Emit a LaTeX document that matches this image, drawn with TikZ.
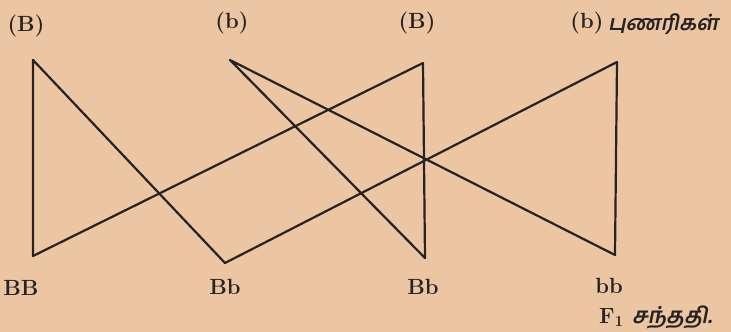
\documentclass[tikz,border=0pt]{standalone}
\usepackage{fontspec}
\newfontfamily\tamilfont[Script=Tamil,FakeSlant=0.2]{Hind Madurai}
\definecolor{paper}{RGB}{236,198,162}
\definecolor{ink}{RGB}{38,34,34}

\begin{document}
\begin{tikzpicture}[x=1pt, y=-1pt, line width=2.2pt, line cap=round, line join=round,
  lbl/.style={font=\fontsize{22}{26}\selectfont\bfseries, text=ink, inner sep=0pt},
  tam/.style={font=\fontsize{21}{25}\selectfont\tamilfont\bfseries, text=ink, inner sep=0pt},
  cross/.style={draw=ink}]
  \fill[paper] (0,0) rectangle (731,332);
  \useasboundingbox (0,0) rectangle (731,332);
  % gametes (top) and offspring (bottom)
  \coordinate (g1) at (33,60);
  \coordinate (g2) at (230,60);
  \coordinate (g3) at (423,63);
  \coordinate (g4) at (617,62);
  \coordinate (f1) at (33,256);
  \coordinate (f2) at (225,263);
  \coordinate (f3) at (425,258);
  \coordinate (f4) at (615,255);
  \node[lbl] (lg1) at (26,26) {(B)};
  \node[lbl] (lg2) at (232,23) {(b)};
  \node[lbl] (lg3) at (417,23) {(B)};
  \node[lbl] (lg4) at (587,23) {(b)};
  \node[tam, anchor=west] (gam) at (607,24) {புணரிகள்};
  \node[lbl] (lf1) at (21,288) {BB};
  \node[lbl] (lf2) at (225,287) {Bb};
  \node[lbl] (lf3) at (423,287) {Bb};
  \node[lbl] (lf4) at (609,286) {bb};
  \node[lbl, anchor=west] (gen) at (598,317) {F\textsubscript{1} {\tamilfont சந்ததி.}};
  % crossing lines
  \draw[cross] (g1) -- (f1) (g1) -- (f2);
  \draw[cross] (g2) -- (f3) (g2) -- (f4);
  \draw[cross] (g3) -- (f1) (g3) -- (f3);
  \draw[cross] (g4) -- (f2) (g4) -- (f4);
\end{tikzpicture}
\end{document}
